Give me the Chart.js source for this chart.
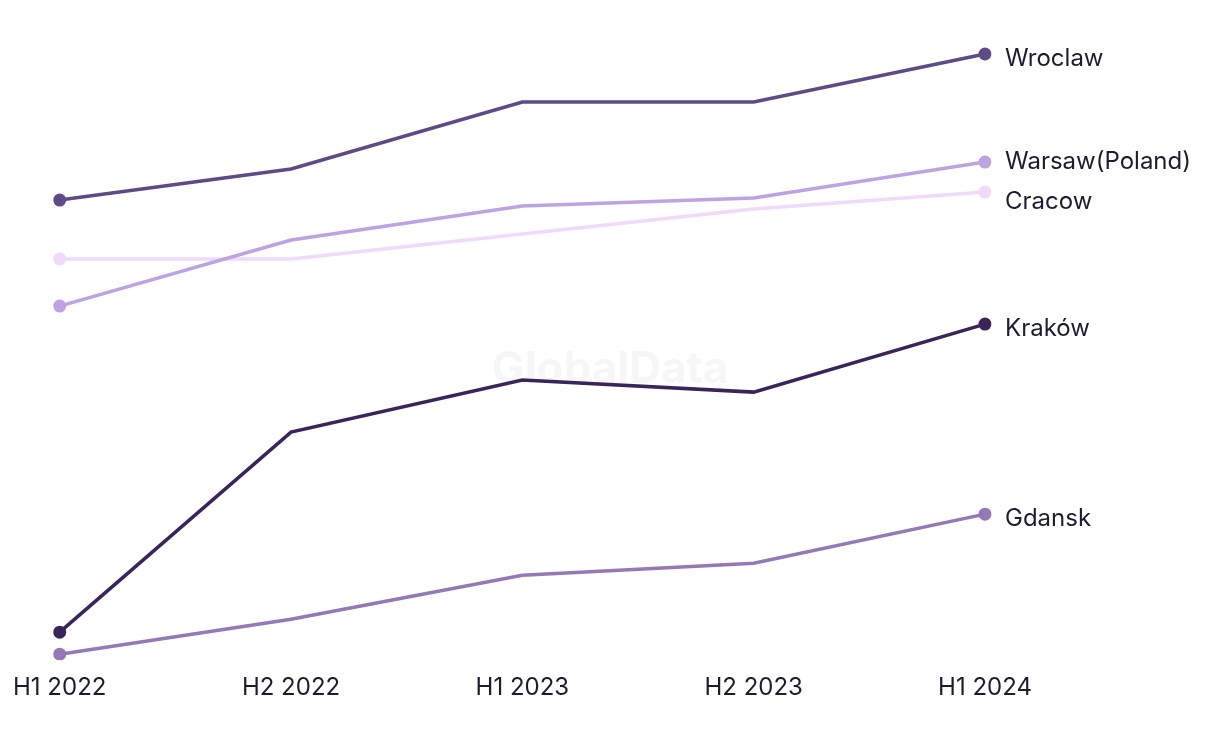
<!DOCTYPE html>
<html>
<head>
<meta charset="utf-8">
<script src="https://cdn.jsdelivr.net/npm/chart.js@4.4.1/dist/chart.umd.min.js"></script>
<style>
  html, body { margin: 0; padding: 0; background: #ffffff; }
  #wrap { width: 1220px; height: 744px; position: relative; }
</style>
</head>
<body>
<div id="wrap"><canvas id="c"></canvas></div>
<script>
const periods = ["H1 2022", "H2 2022", "H1 2023", "H2 2023", "H1 2024"];
const cities = ["Wroclaw", "Warsaw(Poland)", "Cracow", "Kraków", "Gdansk"];
const wroclaw = [50.0, 53.1, 59.8, 59.8, 64.6];
const warsaw  = [39.4, 46.0, 49.4, 50.2, 53.8];
const cracow  = [44.1, 44.1, 46.6, 49.1, 50.8];
const krakow  = [6.8, 26.8, 32.0, 30.8, 37.6];
const gdansk  = [4.6, 8.1, 12.5, 13.7, 18.6];
const seriesValues = [wroclaw, warsaw, cracow, krakow, gdansk];
const colors = ["#5f4a86", "#bea3e2", "#f0d9fb", "#3a2459", "#9479b6"];

const FONT = "Inter, 'Noto Sans', sans-serif";
const TEXT = "#1c1c30";

const watermark = {
  id: "watermark",
  beforeDatasetsDraw(chart) {
    const ctx = chart.ctx;
    ctx.save();
    ctx.font = "bold 44px " + FONT;
    ctx.fillStyle = "rgba(0,0,0,0.035)";
    ctx.textAlign = "center";
    ctx.textBaseline = "middle";
    ctx.fillText("GlobalData", 610, 370);
    ctx.restore();
  }
};

const endLabels = {
  id: "endLabels",
  afterDatasetsDraw(chart) {
    const ctx = chart.ctx;
    const items = [];
    chart.data.datasets.forEach((ds, i) => {
      const meta = chart.getDatasetMeta(i);
      const pt = meta.data[meta.data.length - 1];
      items.push({ text: ds.label, x: pt.x + 20, y: pt.y + 5 });
    });
    items.sort((a, b) => a.y - b.y);
    const gap = 40;
    for (let iter = 0; iter < 20; iter++) {
      for (let k = 1; k < items.length; k++) {
        const d = items[k].y - items[k - 1].y;
        if (d < gap) {
          const s = (gap - d) / 2;
          items[k - 1].y -= s;
          items[k].y += s;
        }
      }
    }
    ctx.save();
    ctx.font = "24px " + FONT;
    ctx.fillStyle = TEXT;
    ctx.textAlign = "left";
    ctx.textBaseline = "middle";
    items.forEach(it => ctx.fillText(it.text, it.x, it.y));
    ctx.restore();
  }
};

new Chart(document.getElementById("c"), {
  type: "line",
  data: {
    labels: periods,
    datasets: cities.map((name, i) => ({
      label: name,
      data: seriesValues[i],
      borderColor: colors[i],
      backgroundColor: colors[i],
      borderWidth: 3.5,
      tension: 0,
      pointRadius: (ctx) => (ctx.dataIndex === 0 || ctx.dataIndex === periods.length - 1) ? 6.5 : 0,
      pointHoverRadius: 6,
      pointBorderWidth: 0
    }))
  },
  options: {
    responsive: true,
    maintainAspectRatio: false,
    animation: false,
    layout: { padding: { left: 11, right: 235, top: 40, bottom: 29 } },
    plugins: {
      legend: { display: false },
      tooltip: { enabled: false }
    },
    scales: {
      x: {
        offset: false,
        grid: { display: false, drawTicks: false },
        border: { display: false },
        ticks: {
          color: TEXT,
          font: { family: FONT, size: 24 },
          padding: 13,
          maxRotation: 0,
          autoSkip: false
        }
      },
      y: {
        display: false,
        min: 4,
        max: 66
      }
    }
  },
  plugins: [watermark, endLabels]
});
</script>
</body>
</html>
